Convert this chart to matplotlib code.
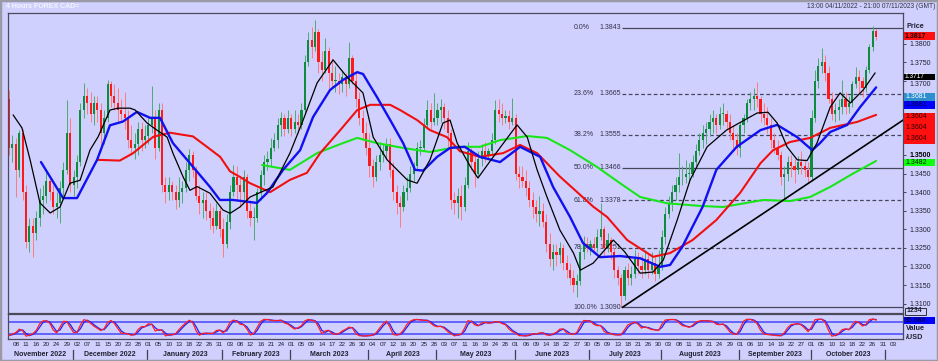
import numpy as np
import pandas as pd
import matplotlib
matplotlib.use("Agg")
import matplotlib.pyplot as plt
from matplotlib.patches import Rectangle
from matplotlib.transforms import blended_transform_factory

plt.rcParams['font.family'] = ['Liberation Sans', 'DejaVu Sans']

# ---------------- data (daily candles) ----------------
first_open = 1.3650
closes = [
    1.3520, 1.3530, 1.3460, 1.3560, 1.3400, 1.3265, 1.3310, 1.3290, 1.3330, 1.3380,
    1.3390, 1.3430, 1.3400, 1.3360, 1.3370, 1.3410, 1.3460, 1.3560, 1.3420, 1.3440,
    1.3480, 1.3620, 1.3660, 1.3640, 1.3610, 1.3640, 1.3620, 1.3560, 1.3600, 1.3690,
    1.3660, 1.3640, 1.3620, 1.3610, 1.3600, 1.3540, 1.3520, 1.3530, 1.3570, 1.3540,
    1.3550, 1.3580, 1.3600, 1.3520, 1.3620, 1.3420, 1.3400, 1.3420, 1.3400, 1.3380,
    1.3400, 1.3410, 1.3460, 1.3500, 1.3460, 1.3390, 1.3370, 1.3380, 1.3350, 1.3330,
    1.3310, 1.3350, 1.3300, 1.3260, 1.3320, 1.3400, 1.3440, 1.3420, 1.3400, 1.3440,
    1.3350, 1.3330, 1.3330, 1.3400, 1.3445, 1.3480, 1.3490, 1.3520, 1.3540, 1.3580,
    1.3600, 1.3570, 1.3600, 1.3570, 1.3590, 1.3580, 1.3620, 1.3750, 1.3810, 1.3790,
    1.3830, 1.3750, 1.3730, 1.3780, 1.3720, 1.3700, 1.3700, 1.3690, 1.3710, 1.3690,
    1.3760, 1.3700, 1.3650, 1.3600, 1.3560, 1.3520, 1.3470, 1.3440, 1.3480, 1.3500,
    1.3510, 1.3530, 1.3460, 1.3400, 1.3370, 1.3360, 1.3400, 1.3410, 1.3450, 1.3470,
    1.3520, 1.3520, 1.3580, 1.3620, 1.3590, 1.3600, 1.3620, 1.3630, 1.3600, 1.3560,
    1.3380, 1.3370, 1.3390, 1.3360, 1.3420, 1.3510, 1.3480, 1.3450, 1.3490, 1.3510,
    1.3500, 1.3510, 1.3540, 1.3620, 1.3610, 1.3600, 1.3605, 1.3590, 1.3600, 1.3450,
    1.3440, 1.3430, 1.3410, 1.3380, 1.3360, 1.3340, 1.3350, 1.3320, 1.3260, 1.3220,
    1.3240, 1.3230, 1.3250, 1.3210, 1.3190, 1.3170, 1.3150, 1.3160, 1.3240, 1.3260,
    1.3250, 1.3260, 1.3250, 1.3280, 1.3300, 1.3250, 1.3270, 1.3240, 1.3190, 1.3170,
    1.3120, 1.3190, 1.3170, 1.3180, 1.3220, 1.3200, 1.3190, 1.3220, 1.3190, 1.3210,
    1.3180, 1.3200, 1.3280, 1.3340, 1.3370, 1.3400, 1.3420, 1.3440, 1.3440, 1.3450,
    1.3450, 1.3480, 1.3510, 1.3540, 1.3560, 1.3570, 1.3590, 1.3600, 1.3580, 1.3610,
    1.3610, 1.3590, 1.3560, 1.3540, 1.3520, 1.3580, 1.3600, 1.3640, 1.3650, 1.3660,
    1.3650, 1.3610, 1.3600, 1.3580, 1.3540, 1.3520, 1.3500, 1.3440, 1.3450, 1.3480,
    1.3470, 1.3460, 1.3480, 1.3470, 1.3460, 1.3440, 1.3600, 1.3700, 1.3740, 1.3750,
    1.3720, 1.3650, 1.3610, 1.3620, 1.3630, 1.3650, 1.3630, 1.3640, 1.3690, 1.3710,
    1.3700, 1.3680, 1.3730, 1.3790, 1.3835, 1.3817]
highs = [
    1.3675, 1.3555, 1.3545, 1.3567, 1.3570, 1.3420, 1.3330, 1.3330, 1.3350, 1.3410,
    1.3420, 1.3460, 1.3440, 1.3420, 1.3400, 1.3430, 1.3480, 1.3648, 1.3600, 1.3460,
    1.3500, 1.3640, 1.3694, 1.3680, 1.3670, 1.3660, 1.3660, 1.3640, 1.3620, 1.3702,
    1.3700, 1.3690, 1.3680, 1.3650, 1.3670, 1.3620, 1.3580, 1.3560, 1.3590, 1.3590,
    1.3580, 1.3600, 1.3685, 1.3620, 1.3640, 1.3640, 1.3440, 1.3440, 1.3430, 1.3420,
    1.3440, 1.3430, 1.3480, 1.3515, 1.3510, 1.3470, 1.3420, 1.3400, 1.3400, 1.3370,
    1.3360, 1.3370, 1.3360, 1.3330, 1.3340, 1.3420, 1.3473, 1.3470, 1.3440, 1.3460,
    1.3450, 1.3380, 1.3360, 1.3410, 1.3460, 1.3500, 1.3510, 1.3545, 1.3560, 1.3600,
    1.3615, 1.3610, 1.3620, 1.3610, 1.3620, 1.3610, 1.3640, 1.3770, 1.3830, 1.3845,
    1.3863, 1.3840, 1.3780, 1.3815, 1.3790, 1.3760, 1.3740, 1.3720, 1.3730, 1.3720,
    1.3805, 1.3770, 1.3720, 1.3670, 1.3620, 1.3590, 1.3560, 1.3490, 1.3500, 1.3535,
    1.3530, 1.3545, 1.3545, 1.3480, 1.3420, 1.3390, 1.3420, 1.3440, 1.3470, 1.3480,
    1.3535, 1.3540, 1.3600, 1.3648, 1.3640, 1.3666, 1.3640, 1.3650, 1.3640, 1.3620,
    1.3570, 1.3400, 1.3410, 1.3420, 1.3440, 1.3535, 1.3520, 1.3500, 1.3510, 1.3530,
    1.3535, 1.3520, 1.3560, 1.3648, 1.3650, 1.3640, 1.3620, 1.3620, 1.3653, 1.3610,
    1.3470, 1.3470, 1.3460, 1.3430, 1.3400, 1.3380, 1.3390, 1.3370, 1.3340, 1.3290,
    1.3260, 1.3260, 1.3265, 1.3260, 1.3230, 1.3210, 1.3190, 1.3180, 1.3260, 1.3281,
    1.3280, 1.3270, 1.3280, 1.3300, 1.3371, 1.3310, 1.3290, 1.3280, 1.3250, 1.3200,
    1.3180, 1.3200, 1.3210, 1.3200, 1.3244, 1.3240, 1.3230, 1.3244, 1.3240, 1.3240,
    1.3230, 1.3244, 1.3298, 1.3360, 1.3390, 1.3420, 1.3442, 1.3505, 1.3470, 1.3487,
    1.3478, 1.3500, 1.3530, 1.3560, 1.3580, 1.3590, 1.3610, 1.3620, 1.3610, 1.3630,
    1.3640, 1.3620, 1.3610, 1.3580, 1.3560, 1.3590, 1.3610, 1.3650, 1.3670, 1.3680,
    1.3696, 1.3660, 1.3640, 1.3630, 1.3600, 1.3560, 1.3540, 1.3510, 1.3470, 1.3496,
    1.3500, 1.3490, 1.3496, 1.3510, 1.3490, 1.3480, 1.3620, 1.3729, 1.3760, 1.3788,
    1.3770, 1.3740, 1.3670, 1.3640, 1.3650, 1.3702, 1.3670, 1.3660, 1.3700, 1.3738,
    1.3730, 1.3710, 1.3740, 1.3800, 1.3847, 1.3840]
lows = [
    1.3500, 1.3480, 1.3387, 1.3440, 1.3380, 1.3250, 1.3240, 1.3225, 1.3270, 1.3310,
    1.3340, 1.3370, 1.3380, 1.3340, 1.3330, 1.3317, 1.3390, 1.3450, 1.3400, 1.3390,
    1.3410, 1.3470, 1.3600, 1.3610, 1.3590, 1.3580, 1.3590, 1.3510, 1.3530, 1.3590,
    1.3630, 1.3620, 1.3590, 1.3590, 1.3570, 1.3520, 1.3500, 1.3490, 1.3500, 1.3510,
    1.3520, 1.3530, 1.3560, 1.3490, 1.3510, 1.3400, 1.3370, 1.3380, 1.3380, 1.3355,
    1.3360, 1.3370, 1.3400, 1.3430, 1.3440, 1.3380, 1.3340, 1.3330, 1.3325, 1.3300,
    1.3290, 1.3300, 1.3280, 1.3225, 1.3250, 1.3300, 1.3390, 1.3380, 1.3360, 1.3380,
    1.3330, 1.3310, 1.3270, 1.3320, 1.3380, 1.3420, 1.3460, 1.3470, 1.3510, 1.3520,
    1.3550, 1.3550, 1.3560, 1.3550, 1.3560, 1.3560, 1.3570, 1.3610, 1.3740, 1.3760,
    1.3780, 1.3720, 1.3700, 1.3720, 1.3680, 1.3680, 1.3670, 1.3665, 1.3670, 1.3660,
    1.3680, 1.3690, 1.3630, 1.3580, 1.3540, 1.3500, 1.3440, 1.3414, 1.3430, 1.3460,
    1.3480, 1.3490, 1.3440, 1.3380, 1.3340, 1.3306, 1.3350, 1.3380, 1.3400, 1.3430,
    1.3460, 1.3500, 1.3510, 1.3570, 1.3570, 1.3580, 1.3580, 1.3590, 1.3570, 1.3520,
    1.3355, 1.3340, 1.3330, 1.3325, 1.3350, 1.3410, 1.3460, 1.3414, 1.3440, 1.3470,
    1.3480, 1.3490, 1.3500, 1.3530, 1.3590, 1.3580, 1.3585, 1.3570, 1.3580, 1.3432,
    1.3410, 1.3414, 1.3390, 1.3360, 1.3330, 1.3320, 1.3310, 1.3306, 1.3240, 1.3200,
    1.3190, 1.3200, 1.3210, 1.3190, 1.3170, 1.3150, 1.3130, 1.3118, 1.3150, 1.3220,
    1.3240, 1.3230, 1.3240, 1.3240, 1.3270, 1.3230, 1.3240, 1.3220, 1.3170, 1.3150,
    1.3090, 1.3110, 1.3150, 1.3150, 1.3170, 1.3180, 1.3170, 1.3180, 1.3170, 1.3180,
    1.3160, 1.3170, 1.3190, 1.3260, 1.3330, 1.3350, 1.3380, 1.3400, 1.3420, 1.3424,
    1.3425, 1.3440, 1.3470, 1.3500, 1.3520, 1.3530, 1.3550, 1.3560, 1.3560, 1.3570,
    1.3580, 1.3570, 1.3540, 1.3520, 1.3500, 1.3495, 1.3560, 1.3590, 1.3620, 1.3620,
    1.3630, 1.3590, 1.3580, 1.3560, 1.3520, 1.3505, 1.3487, 1.3420, 1.3380, 1.3430,
    1.3440, 1.3424, 1.3450, 1.3450, 1.3442, 1.3424, 1.3430, 1.3590, 1.3680, 1.3720,
    1.3700, 1.3640, 1.3594, 1.3590, 1.3594, 1.3610, 1.3610, 1.3612, 1.3630, 1.3680,
    1.3670, 1.3657, 1.3670, 1.3720, 1.3780, 1.3810]

# moving averages, read at sample days (day index, price)
ma_black_days = [1.2, 3.8, 6.2, 9.1, 12.1, 15, 17.9, 20.9, 23.8, 26.2, 29.7, 32, 35.6, 37.1,
                 40.6, 43.5, 46.5, 48.2, 51.2, 53.2, 55.3, 59.1, 62.9, 65, 67.9, 70.9, 77.6,
                 82.6, 86.5, 90.6, 95.3, 99.4, 104.1, 107.1, 111.2, 117.1, 120, 123.8, 127.6,
                 129.7, 131.8, 135.6, 137.9, 142.4, 149.4, 152.4, 155.3, 158.2, 162, 166,
                 168, 171.8, 177.7, 181, 185.6, 189.4, 192.4, 196.5, 200.3, 205.3, 211, 220,
                 223.2, 225.9, 228.8, 231.8, 234.7, 237.6, 241.5, 244.4, 247.4, 251.2, 254.7]
ma_black_vals = [1.3608, 1.3573, 1.3487, 1.3371, 1.3344, 1.3360, 1.3424, 1.3432, 1.3513, 1.3549,
                 1.3621, 1.3626, 1.3626, 1.3621, 1.3586, 1.3567, 1.3548, 1.3505, 1.3441, 1.3405,
                 1.3415, 1.3397, 1.3352, 1.3343, 1.3360, 1.3387, 1.3414, 1.3505, 1.3594, 1.3694,
                 1.3756, 1.3710, 1.3667, 1.3548, 1.3487, 1.3433, 1.3424, 1.3487, 1.3586, 1.3594,
                 1.3532, 1.3470, 1.3438, 1.3495, 1.3581, 1.3548, 1.3460, 1.3387, 1.3298, 1.3236,
                 1.3190, 1.3209, 1.3271, 1.3240, 1.3182, 1.3185, 1.3217, 1.3325, 1.3433, 1.3522,
                 1.3567, 1.3613, 1.3615, 1.3586, 1.3522, 1.3487, 1.3485, 1.3532, 1.3629, 1.3667,
                 1.3640, 1.3675, 1.3721]
ma_blue_days = [9.4, 15.9, 20, 25.9, 29.7, 33.5, 37.6, 41.5, 44.4, 48.2, 53.2, 59.1, 62, 65.9,
                72.9, 75.9, 80.6, 85.6, 89.4, 94.4, 98.2, 102.4, 104.1, 108.2, 112.1, 115.9,
                119.4, 121.8, 125.9, 129.7, 134, 138.5, 144.4, 150.3, 156.2, 160, 165, 168.8,
                173.8, 179.7, 185.6, 191.5, 194.4, 198, 204, 208, 214, 221, 225.9, 231.8,
                236.2, 238.5, 241.5, 246.5, 250.3, 255]
ma_blue_vals = [1.3481, 1.3384, 1.3384, 1.3487, 1.3580, 1.3590, 1.3616, 1.3600, 1.3600, 1.3532,
                1.3478, 1.3414, 1.3379, 1.3379, 1.3371, 1.3398, 1.3460, 1.3513, 1.3602, 1.3675,
                1.3702, 1.3723, 1.3718, 1.3656, 1.3594, 1.3532, 1.3460, 1.3458, 1.3495, 1.3519,
                1.3522, 1.3495, 1.3481, 1.3522, 1.3495, 1.3414, 1.3333, 1.3263, 1.3225, 1.3228,
                1.3222, 1.3199, 1.3204, 1.3253, 1.3361, 1.3460, 1.3522, 1.3567, 1.3581, 1.3548,
                1.3513, 1.3532, 1.3562, 1.3581, 1.3629, 1.3682]
ma_red_days = [25.9, 32.6, 36.5, 42.4, 47.3, 54.1, 58.2, 62.1, 65, 67.9, 70.9, 76.8, 82.6, 87.6,
               91.5, 97.4, 102.4, 106.2, 112.1, 115, 120, 123.8, 128.8, 132.6, 138.5, 145.3,
               150.3, 155.3, 162, 171.8, 175.9, 181.8, 189.4, 194.4, 201, 208, 215, 221, 224.7,
               229.7, 235.6, 241.5, 249.4, 255]
ma_red_vals = [1.3487, 1.3485, 1.3505, 1.3549, 1.3560, 1.3550, 1.3522, 1.3495, 1.3456, 1.3441,
               1.3424, 1.3400, 1.3433, 1.3452, 1.3505, 1.3567, 1.3621, 1.3635, 1.3635, 1.3621,
               1.3594, 1.3567, 1.3548, 1.3510, 1.3495, 1.3505, 1.3527, 1.3505, 1.3442, 1.3361,
               1.3333, 1.3271, 1.3226, 1.3236, 1.3271, 1.3325, 1.3398, 1.3478, 1.3513, 1.3535,
               1.3546, 1.3573, 1.3589, 1.3608]
ma_green_days = [74.4, 82.6, 90.6, 98.2, 102.4, 108.2, 115.9, 123.8, 131.8, 138.5, 144.4, 152.4,
                 158.2, 165, 172.9, 179.7, 185.6, 193.5, 203.2, 210, 221.8, 229.7, 235.6,
                 241.5, 248.2, 255]
ma_green_vals = [1.3473, 1.3460, 1.3505, 1.3532, 1.3546, 1.3532, 1.3519, 1.3508, 1.3522, 1.3522,
                 1.3540, 1.3551, 1.3546, 1.3513, 1.3468, 1.3424, 1.3387, 1.3370, 1.3363, 1.3360,
                 1.3379, 1.3376, 1.3387, 1.3414, 1.3450, 1.3484]

fib_pcts = ['0.0%', '23.6%', '38.2%', '50.0%', '61.8%', '78.6%', '100.0%']
fib_vals = [1.3843, 1.3665, 1.3555, 1.3466, 1.3378, 1.3251, 1.3090]
fib_solid = [True, False, False, True, False, False, True]
fib_start_day = 180.4

trend_days = [180.4, 227.4]
trend_vals = [1.3090, 1.3377]

day_labels = ("08 11 16 20 24 29 02 07 11 15 20 23 28 01 05 10 13 18 22 26 31 03 08 12 16 21 24 "
              "01 05 09 14 17 22 26 30 04 07 12 16 20 25 28 03 07 11 16 19 24 28 01 06 09 14 18 "
              "22 27 30 05 09 13 18 21 26 30 03 08 11 16 21 24 29 01 06 10 14 19 22 27 01 05 10 "
              "13 18 22 26 31 03").split()

price_ticks = [1.3100, 1.3150, 1.3200, 1.3250, 1.3300, 1.3350, 1.3400, 1.3450,
               1.3500, 1.3550, 1.3600, 1.3650, 1.3700, 1.3750, 1.3800]
hidden_tick_labels = ["1.3550", "1.3600", "1.3650"]   # covered by value boxes

title_left = "4 Hours FOREX CAD="
title_right = "13:00 04/11/2022 - 21:00 07/11/2023 (GMT)"
last_price = "1.3817"
ma_labels = ["1.3717", "1.3681", "1.3681", "1.3604", "1.3604", "1.3604", "1.3482"]
osc_value = "85.684"

# ---------------- figure ----------------
W, H = 938, 361
BG = '#D0D0FF'
fig = plt.figure(figsize=(W / 100, H / 100), dpi=100)
fig.patch.set_facecolor(BG)


def fx(px):
    return px / W


def fy(py):
    return 1 - py / H


X0, X1 = 8, 903
ax = fig.add_axes([fx(X0), fy(313), fx(X1) - fx(X0), fy(13) - fy(313)])
axo = fig.add_axes([fx(X0), fy(339), fx(X1) - fx(X0), fy(314) - fy(339)])
XMIN, XMAX = -0.3, 262.9
for a in (ax, axo):
    a.set_facecolor(BG)
    a.set_xlim(XMIN, XMAX)
    for s in a.spines.values():
        s.set_color('#4A4A5A')
        s.set_linewidth(0.9)
ax.set_ylim(1.30747, 1.38822)

# candles
c = np.array(closes)
h = np.array(highs)
l = np.array(lows)
o = np.concatenate([[first_open], c[:-1]])
x = np.arange(len(c))
up = c >= o
UP, DN = '#0C8C3C', '#FF1A1A'
UPW, DNW = '#4DAA72', '#FF7A7A'
ax.vlines(x, l, h, colors=np.where(up, UPW, DNW), lw=0.7, zorder=2)
ax.bar(x, np.maximum(np.abs(c - o), 0.0002), bottom=np.minimum(o, c), width=0.62,
       color=np.where(up, UP, DN), lw=0, zorder=2.1)

# fib levels
for pct, val, solid in zip(fib_pcts, fib_vals, fib_solid):
    ax.hlines(val, fib_start_day, XMAX, colors='#46465A', lw=0.9,
              linestyles='-' if solid else (0, (3, 2)), zorder=1)
    ax.text(fib_start_day - 14.4, val, pct, fontsize=5, color='#303048', ha='left',
            va='center', zorder=1)
    ax.text(fib_start_day - 0.3, val, f"{val:.4f}", fontsize=5, color='#303048',
            ha='right', va='center', zorder=1)

# moving averages
kw = dict(solid_joinstyle='round', solid_capstyle='round')
ax.plot(ma_green_days, ma_green_vals, color='#19E619', lw=1.5, zorder=3, **kw)
ax.plot(ma_red_days, ma_red_vals, color='#F01010', lw=1.5, zorder=3.1, **kw)
ax.plot(ma_blue_days, ma_blue_vals, color='#1010F0', lw=1.7, zorder=3.2, **kw)
ax.plot(ma_black_days, ma_black_vals, color='#000000', lw=0.9, zorder=3.3, **kw)

# trend line
slope = (trend_vals[1] - trend_vals[0]) / (trend_days[1] - trend_days[0])
ax.plot([trend_days[0], XMAX], [trend_vals[0], trend_vals[0] + slope * (XMAX - trend_days[0])],
        color='black', lw=1.2, zorder=4)

# price axis
ax.yaxis.tick_right()
ax.set_yticks(price_ticks)
ax.set_yticklabels(["" if f"{p:.4f}" in hidden_tick_labels else f"{p:.4f}" for p in price_ticks])
ax.tick_params(axis='y', direction='out', length=2.5, width=0.6, color='#303040',
               labelsize=5, pad=2, labelcolor='#202030')
ax.tick_params(axis='x', bottom=False, labelbottom=False)
for lab in ax.get_yticklabels():
    if lab.get_text() == "1.3500":
        lab.set_fontweight('bold')
        lab.set_color('black')
    if lab.get_text() == "1.3700":
        lab.set_va('top')

# oscillator (stochastic computed from the candles)
df = pd.DataFrame({'h': h, 'l': l, 'c': c})
hh = df.h.rolling(4, min_periods=1).max()
ll = df.l.rolling(4, min_periods=1).min()
k_raw = 100 * (df.c - ll) / (hh - ll)
k_line = k_raw.rolling(2, min_periods=1).mean()
d_line = k_line.rolling(2, min_periods=1).mean()
axo.set_ylim(-6.5, 118.5)
axo.axhline(80, color='#6464FF', lw=1.4, zorder=1)
axo.axhline(20, color='#6464FF', lw=1.4, zorder=1)
axo.plot(x, d_line, color='#2020FF', lw=0.9, zorder=2)
axo.plot(x, k_line, color='#FF2020', lw=0.9, zorder=3)
axo.set_yticks([])
axo.tick_params(axis='x', bottom=False, labelbottom=False)

# date labels
tb = blended_transform_factory(axo.transData, axo.transAxes)
tick_days = list(range(2, 261, 3))
for d, lab in zip(tick_days, day_labels):
    axo.text(d, -0.2, lab, transform=tb, fontsize=4.6, color='#202030', ha='center',
             va='center', clip_on=False)

dates = pd.bdate_range('2022-11-04', periods=264)
month_starts = [i for i in range(1, len(dates)) if dates[i].month != dates[i - 1].month]
edges = [XMIN] + [m - 0.3 for m in month_starts]
for m in month_starts:
    axo.plot([m - 0.3, m - 0.3], [-0.42, -0.78], transform=tb, color='#404050', lw=0.9,
             clip_on=False)
for i in range(len(month_starts)):
    left = edges[i]
    right = edges[i + 1]
    name = dates[int(round(left + 0.5))].strftime('%B %Y')
    axo.text((left + right) / 2, -0.6, name, transform=tb, fontsize=5, fontweight='bold',
             color='#202030', ha='center', va='center', clip_on=False)

# header texts
fig.text(fx(6), fy(7), title_left, fontsize=5, fontweight='bold', color='#F4F4FF',
         ha='left', va='center')
fig.text(fx(935), fy(7), title_right, fontsize=4.8, color='#303040', ha='right', va='center')

# right-hand column boxes


def box(py, text, fc, tc, hgt=7.0, weight='normal', fs=5):
    fig.add_artist(Rectangle((fx(903.5), fy(py + hgt / 2)), fx(935) - fx(903.5), hgt / H,
                             transform=fig.transFigure, fc=fc, ec='none', zorder=5))
    fig.text(fx(905), fy(py), text, fontsize=fs, color=tc, ha='left', va='center',
             zorder=6, fontweight=weight)


fig.text(fx(906), fy(27), "Price", fontsize=5.2, fontweight='bold', color='#202030',
         ha='left', va='center')
box(36, last_price, '#FF1010', '#200000', weight='bold')
box(77, ma_labels[0], '#000000', '#FFFFFF', hgt=6.5, fs=4.8)
box(97, ma_labels[1], '#2E8FD0', '#FFFFFF')
box(105, ma_labels[2], '#0000FF', '#000040')
fig.add_artist(Rectangle((fx(903.5), fy(144)), fx(935) - fx(903.5), 31 / H,
                         transform=fig.transFigure, fc='#FF1010', ec='none', zorder=5))
for py, t in zip([117, 127.5, 138.5], ma_labels[3:6]):
    fig.text(fx(905), fy(py), t, fontsize=5, color='#300000', ha='left', va='center', zorder=6)
box(163, ma_labels[6], '#10FF10', '#002000')

fig.add_artist(Rectangle((fx(905), fy(314.5)), fx(926) - fx(905), 7 / H,
                         transform=fig.transFigure, fc='none', ec='#303040', lw=0.7, zorder=5))
fig.text(fx(906.5), fy(311), "1234", fontsize=5, fontweight='bold', color='#202030',
         ha='left', va='center', zorder=6)
box(320.5, osc_value, '#0000FF', '#000020')
fig.text(fx(906), fy(329), "Value", fontsize=5.2, fontweight='bold', color='#202030',
         ha='left', va='center')
fig.text(fx(906), fy(337.5), "/USD", fontsize=5.2, fontweight='bold', color='#202030',
         ha='left', va='center')

# outer border
fig.add_artist(Rectangle((0, 0), 1, 1, transform=fig.transFigure, fill=False,
                         ec='#9A9AA6', lw=2.5, zorder=10))

fig.savefig('out.png', dpi=100, facecolor=BG)
